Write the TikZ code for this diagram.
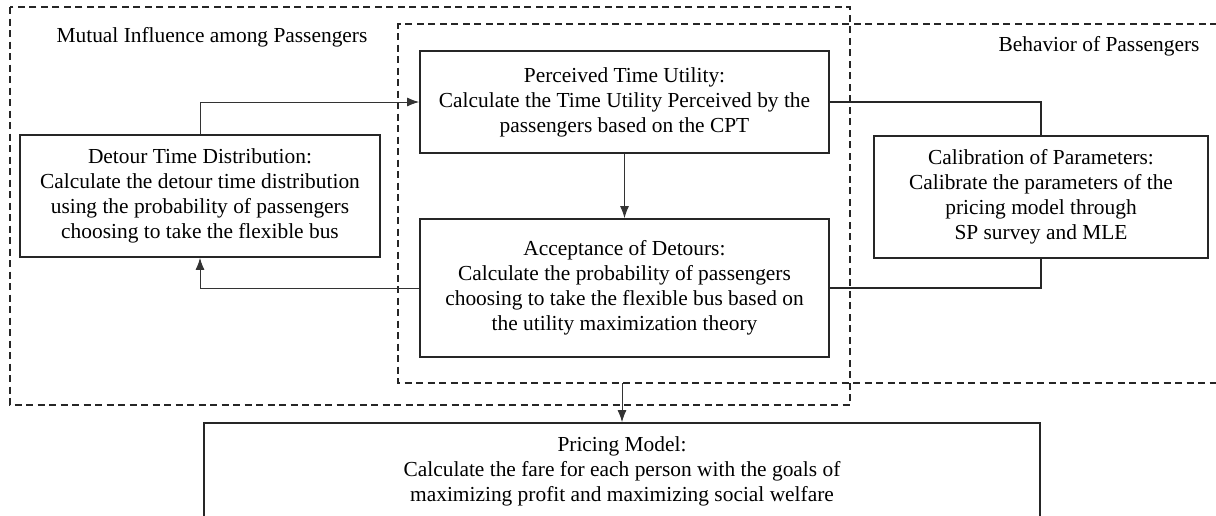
\documentclass[tikz,border=0pt]{standalone}
\usepackage{fontspec}
\setmainfont{Liberation Serif}
\usetikzlibrary{arrows.meta}
\begin{document}
\begin{tikzpicture}[x=1pt,y=-1pt,
  box/.style={draw=black!85,line width=1.8pt,align=center,inner sep=0pt,
    font=\fontsize{21.4}{25}\selectfont},
  lbl/.style={font=\fontsize{21.4}{25}\selectfont,inner sep=0pt},
  conn/.style={draw=black!80,line width=0.9pt},
  arr/.style={conn,-{Latex[length=12pt,width=9pt]}},
  dbox/.style={draw=black!85,line width=1.4pt,dash pattern=on 7pt off 4.5pt}]
\useasboundingbox (0,0) rectangle (1216,515);
% dashed group frames
\draw[dbox] (10,7) rectangle (850,405);
\draw[dbox] (1240,24) -- (398,24) -- (398,383) -- (1240,383);
\node[lbl] (mutual) at (212,37) {Mutual Influence among Passengers};
\node[lbl] (behav) at (1099,46) {Behavior of Passengers};
% boxes
\node[box,minimum width=409pt,minimum height=102pt] (perc) at (624.5,102)
  {Perceived Time Utility:\\Calculate the Time Utility Perceived by the\\passengers based on the CPT};
\node[box,minimum width=360pt,minimum height=122pt] (detour) at (200,196)
  {Detour Time Distribution:\\Calculate the detour time distribution\\using the probability of passengers\\choosing to take the flexible bus};
\node[box,minimum width=409pt,minimum height=138pt] (accept) at (624.5,288)
  {Acceptance of Detours:\\Calculate the probability of passengers\\choosing to take the flexible bus based on\\the utility maximization theory};
\node[box,minimum width=334pt,minimum height=122pt] (calib) at (1041,197)
  {Calibration of Parameters:\\Calibrate the parameters of the\\pricing model through\\SP survey and MLE};
\node[box,minimum width=836pt,minimum height=96pt] (pricing) at (622,471)
  {Pricing Model:\\Calculate the fare for each person with the goals of\\maximizing profit and maximizing social welfare};
\coordinate (innerbot) at (622,383);
% connectors
\draw[arr] (detour.north) |- (perc.west);
\draw[arr] (accept.west) -| (detour.south);
\draw[arr] (perc.south) -- (accept.north);
\draw[conn,line width=1.4pt,draw=black!85] (perc.east) -| (calib.north);
\draw[conn,line width=1.4pt,draw=black!85] (calib.south) |- (accept.east);
\draw[arr] (innerbot) -- (pricing.north);
\end{tikzpicture}
\end{document}
